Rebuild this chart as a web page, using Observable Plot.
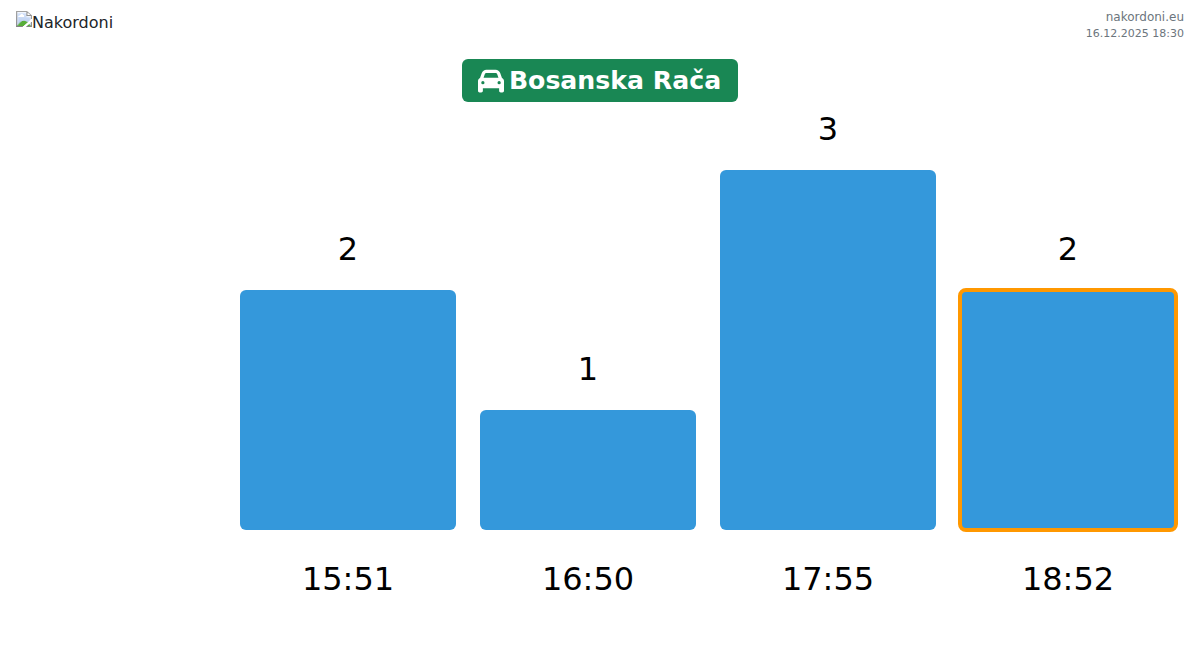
<!DOCTYPE html>
<html lang="bs">
<head>
<meta charset="utf-8">
<title>Bosanska Rača</title>
<script src="https://cdn.jsdelivr.net/npm/d3@7"></script>
<script src="https://cdn.jsdelivr.net/npm/@observablehq/plot@0.6"></script>
<style>
  html, body { margin: 0; padding: 0; background: #fff; overflow: hidden; }
  body { position: relative; width: 1200px; height: 651px; font-family: "DejaVu Sans", sans-serif; color: #212529; }
  #logo { position: absolute; left: 16px; top: 11px; font-size: 16px; line-height: 24px; }
  #stamp { position: absolute; right: 16px; top: 9px; text-align: right; font-size: 12px; line-height: 16px; color: #6c757d; }
  #stamp small { font-size: 11px; }
  #badge { position: absolute; left: 462px; top: 59px; width: 276px; height: 43px; background: #198754; border-radius: 6px; padding-right: 1px;
           color: #fff; font-weight: 700; font-size: 25.2px; display: flex; align-items: center; justify-content: center; gap: 5px; box-sizing: border-box; white-space: nowrap; }
  #badge svg { width: 26px; height: 26px; fill: #fff; display: block; }
  #chart { position: absolute; left: 0; top: 0; }
  #chart svg { display: block; }
</style>
</head>
<body>
<div id="chart"></div>
<div id="logo"><img src="logo.png" alt="Nakordoni"></div>
<div id="stamp">nakordoni.eu<br><small>16.12.2025 18:30</small></div>
<div id="badge">
  <svg viewBox="0 0 512 512" aria-hidden="true"><path d="M135.2 117.4L109.1 192H402.9l-26.1-74.6C372.3 104.6 360.2 96 346.6 96H165.4c-13.6 0-25.7 8.6-30.2 21.4zM39.6 196.8L74.8 96.3C88.3 57.8 124.6 32 165.4 32H346.6c40.8 0 77.1 25.8 90.6 64.3l35.2 100.5c23.2 9.6 39.6 32.5 39.6 59.2V400v48c0 17.7-14.3 32-32 32H448c-17.7 0-32-14.3-32-32V400H96v48c0 17.7-14.3 32-32 32H32c-17.7 0-32-14.3-32-32V400 256c0-26.7 16.4-49.6 39.6-59.2zM128 288a32 32 0 1 0 -64 0 32 32 0 1 0 64 0zm288 32a32 32 0 1 0 0-64 32 32 0 1 0 0 64z"/></svg>
  <span>Bosanska Rača</span>
</div>
<script>
const times = ["15:51", "16:50", "17:55", "18:52"];
const counts = [2, 1, 3, 2];
const currentTime = "18:52";

const rows = times.map((time, i) => ({time, count: counts[i]}));

const chart = Plot.plot({
  width: 1200,
  height: 651,
  marginTop: 170,
  marginBottom: 121,
  marginLeft: 216,
  marginRight: 0,
  style: {background: "transparent", fontFamily: "'DejaVu Sans', sans-serif"},
  x: {domain: times, padding: 0.1, label: null},
  y: {domain: [0, 3], axis: null},
  marks: [
    Plot.barY(rows.filter(d => d.time !== currentTime), {x: "time", y: "count", fill: "#3498db", rx: 6}),
    Plot.barY(rows.filter(d => d.time === currentTime), {x: "time", y: "count", fill: "#3498db", stroke: "#ff9800", strokeWidth: 4, rx: 6}),
    Plot.text(rows, {x: "time", y: "count", text: d => String(d.count), dy: -41, dx: -0.5, fontSize: 32, fill: "#000"}),
    Plot.axisX({tickSize: 0, tickPadding: 0, fontSize: 32, label: null, dy: 37, dx: -0.5, fill: "#000"})
  ]
});
document.getElementById("chart").append(chart);
</script>
</body>
</html>
